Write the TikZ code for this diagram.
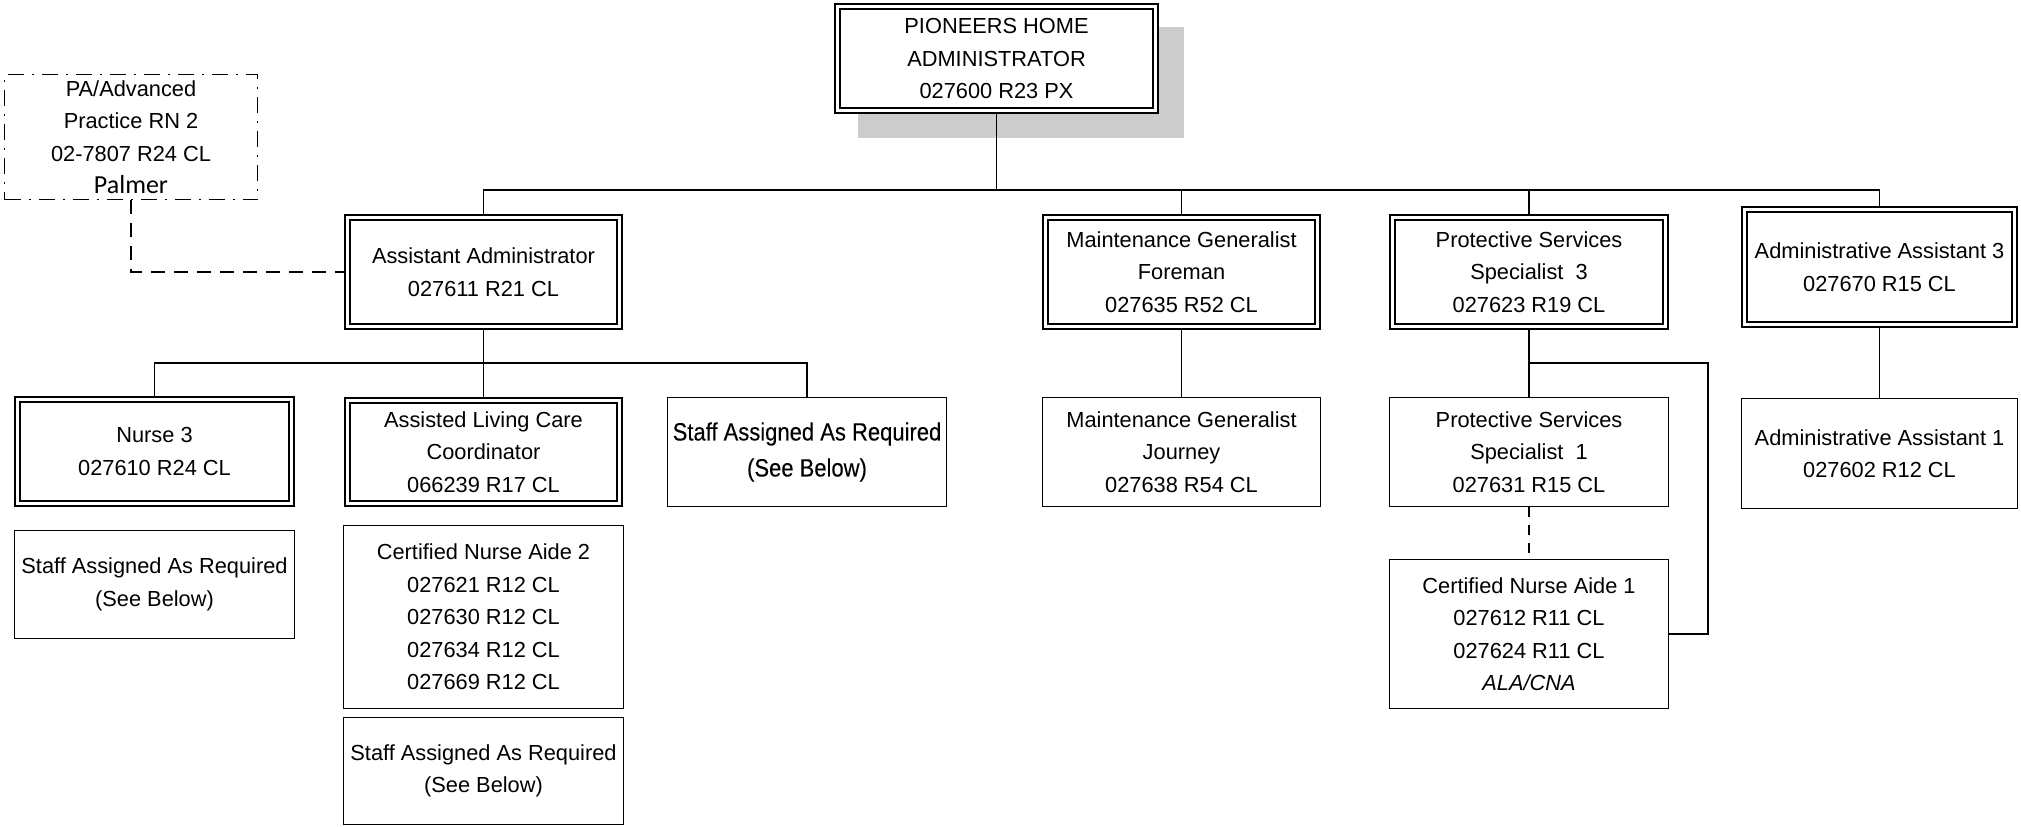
\documentclass[tikz,border=0pt]{standalone}
\usepackage{fontspec}
\setmainfont{Liberation Sans}
\newfontfamily\palmfont{Carlito}
\newfontfamily\narrowfont[FakeStretch=0.88, FakeBold=0.15]{Liberation Sans}
\usetikzlibrary{backgrounds}
\definecolor{shadowgray}{RGB}{204,204,204}
\begin{document}
\begin{tikzpicture}[x=0.5pt,y=-0.5pt,
  every node/.style={font=\fontsize{10.9pt}{16.25pt}\selectfont, align=center, inner sep=0pt},
  dbox/.style={draw, double, line width=1.05pt, double distance=1.3pt, fill=white},
  sbox/.style={draw, line width=0.95pt, fill=white},
  conn/.style={line width=0.95pt},
  dconn/.style={line width=0.95pt, dash pattern=on 7pt off 4.5pt},
  dconnb/.style={line width=0.95pt, dash pattern=on 5pt off 4pt},
  dashdotbox/.style={draw, line width=0.9pt, dash pattern=on 8pt off 4pt on 1pt off 4pt, fill=white}
]
\useasboundingbox (0,0) rectangle (2021,826);

% top level
\node[dbox, minimum width=159pt, minimum height=52pt] (top) at (996.5,58.5) {PIONEERS HOME\\ADMINISTRATOR\\027600 R23 PX};
\node[dashdotbox, minimum width=126.5pt, minimum height=62.5pt] (pa) at (131,137) {PA/Advanced\\Practice RN 2\\02-7807 R24 CL\\{\palmfont\fontsize{13pt}{16.25pt}\selectfont Palmer}};

% second level
\node[dbox, minimum width=136pt, minimum height=54.5pt] (aa) at (483.5,272) {Assistant Administrator\\027611 R21 CL};
\node[dbox, minimum width=136pt, minimum height=54.5pt] (mgf) at (1181.5,272) {Maintenance Generalist\\Foreman\\027635 R52 CL};
\node[dbox, minimum width=136.5pt, minimum height=54.5pt] (pss3) at (1529,272) {Protective Services\\Specialist\ \ 3\\027623 R19 CL};
\node[dbox, minimum width=135pt, minimum height=57.5pt] (aa3) at (1879.5,267) {Administrative Assistant 3\\027670 R15 CL};

% third level
\node[dbox, minimum width=137pt, minimum height=52pt] (nurse3) at (154.5,451.5) {Nurse 3\\027610 R24 CL};
\node[dbox, minimum width=136pt, minimum height=51.5pt] (alcc) at (483.5,452) {Assisted Living Care\\Coordinator\\066239 R17 CL};
\node[sbox, minimum width=139.5pt, minimum height=54.5pt, font=\narrowfont\fontsize{12.5pt}{18pt}\selectfont] (sar1) at (807,452) {Staff Assigned As Required\\(See Below)};
\node[sbox, minimum width=139pt, minimum height=54.5pt] (mgj) at (1181.5,452) {Maintenance Generalist\\Journey\\027638 R54 CL};
\node[sbox, minimum width=139.5pt, minimum height=54.5pt] (pss1) at (1529,452) {Protective Services\\Specialist\ \ 1\\027631 R15 CL};
\node[sbox, minimum width=138pt, minimum height=55pt] (aa1) at (1879.5,453.5) {Administrative Assistant 1\\027602 R12 CL};

% lower boxes
\node[sbox, minimum width=140pt, minimum height=54pt] (sar2) at (154.5,584.5) {Staff Assigned As Required\\(See Below)};
\node[sbox, minimum width=140pt, minimum height=91.5pt] (cna2) at (483.5,617) {Certified Nurse Aide 2\\027621 R12 CL\\027630 R12 CL\\027634 R12 CL\\027669 R12 CL};
\node[sbox, minimum width=140pt, minimum height=53.5pt] (sar3) at (483.5,771) {Staff Assigned As Required\\(See Below)};
\node[sbox, minimum width=139.5pt, minimum height=74.5pt] (cna1) at (1529,634) {Certified Nurse Aide 1\\027612 R11 CL\\027624 R11 CL\\\textit{ALA/CNA}};

\coordinate (bus) at (998,190);
\coordinate (bus2) at (483.5,363);
\coordinate (kink) at (1708,363);

\begin{scope}[on background layer]
  \fill[shadowgray] (858,27) rectangle (1184,138);
  \draw[conn] (top.south) -- (top.south |- bus);
  \draw[conn] (aa.north) |- (bus) -| (aa3.north);
  \draw[conn] (mgf.north) -- (mgf.north |- bus);
  \draw[conn] (pss3.north) -- (pss3.north |- bus);
  \draw[conn] (aa.south) -- (alcc.north);
  \draw[conn] (nurse3.north) |- (bus2) -| (sar1.north);
  \draw[conn] (mgf.south) -- (mgj.north);
  \draw[conn] (pss3.south) -- (pss1.north);
  \draw[conn] (pss3.south |- kink) -- (kink) |- (cna1.east);
  \draw[dconnb] (pss1.south) -- (cna1.north);
  \draw[conn] (aa3.south) -- (aa1.north);
  \draw[dconn] (pa.south) |- (aa.west);
\end{scope}
\end{tikzpicture}
\end{document}
